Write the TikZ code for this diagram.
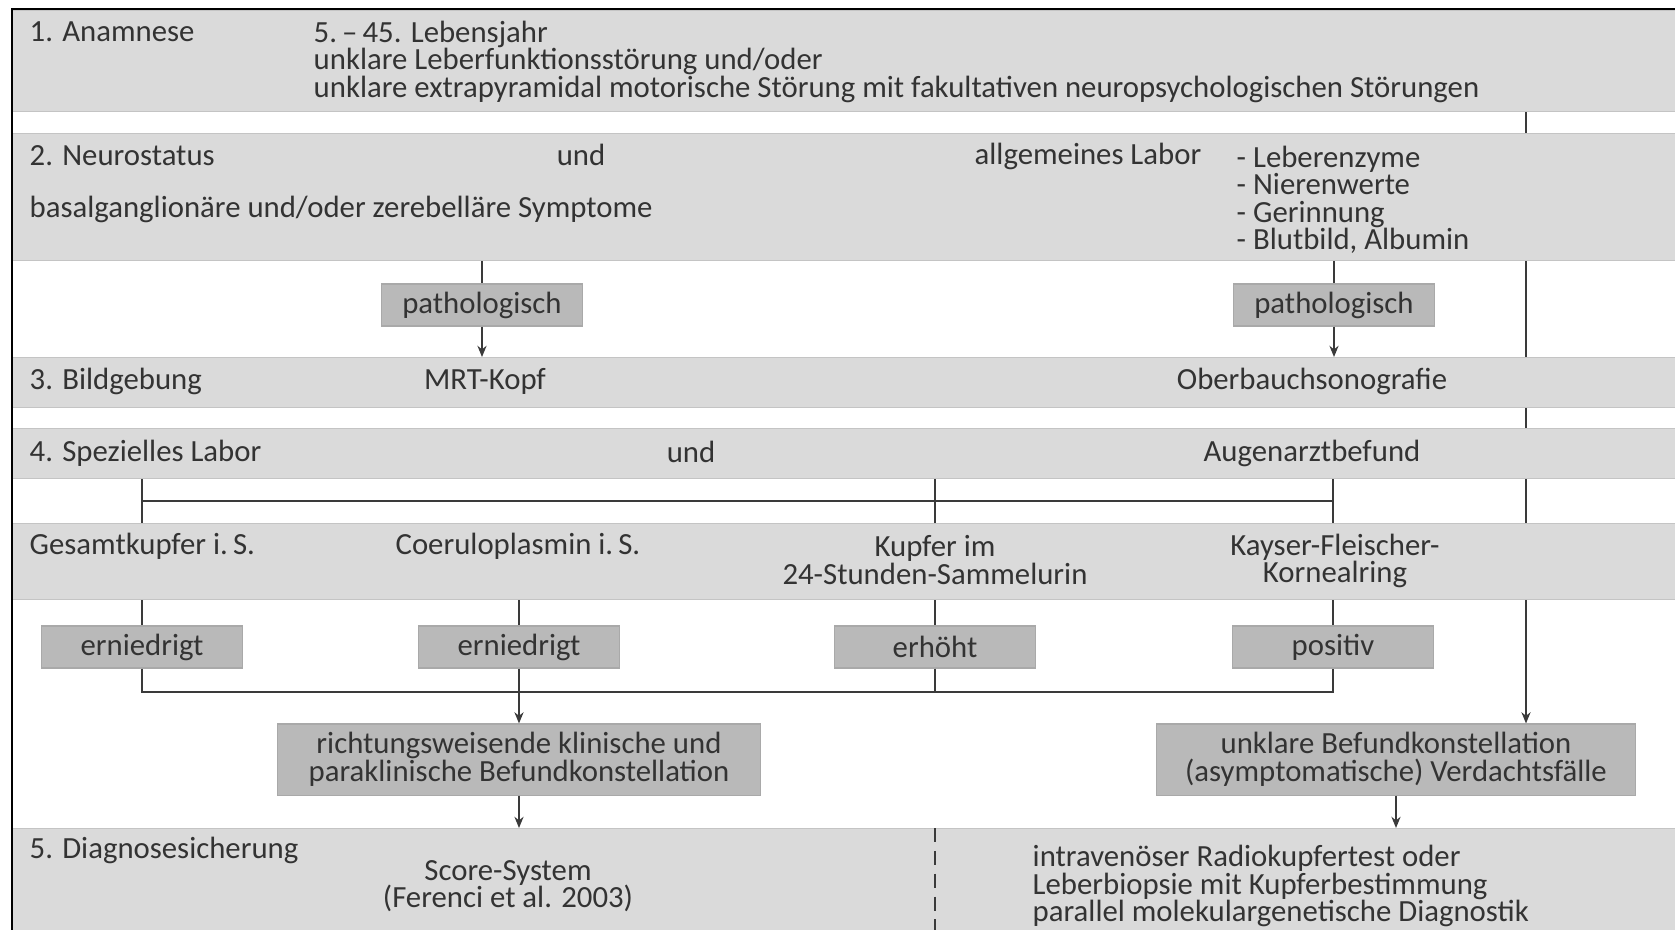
\documentclass[tikz,border=0pt]{standalone}
\usepackage{fontspec}
\setmainfont{Carlito}
\usepackage{tikz}
\usetikzlibrary{positioning,arrows.meta,backgrounds}
\definecolor{bandgray}{HTML}{DADADA}
\definecolor{bandline}{HTML}{C4C4C4}
\definecolor{boxgray}{HTML}{B9B9B9}
\definecolor{boxline}{HTML}{A9A9A9}
\definecolor{txt}{HTML}{333333}
\definecolor{lne}{HTML}{3A3A3A}

\begin{document}
\begin{tikzpicture}[x=0.01cm, y=-0.01cm,
    font=\fontsize{8.75}{7.85}\selectfont,
    band/.style={fill=bandgray, draw=bandline, line width=0.4pt, anchor=north west,
        inner sep=0pt, minimum width=16.63cm},
    box/.style={fill=boxgray, draw=boxline, line width=0.3pt, inner sep=0pt,
        minimum width=2.01cm, minimum height=0.42cm, text=txt},
    bigbox/.style={box, minimum height=0.71cm, align=center},
    lbl/.style={inner sep=0pt, text=txt, anchor=west, align=left},
    mid/.style={inner sep=0pt, text=txt, align=center},
    conn/.style={draw=lne, line width=0.45pt},
    arr/.style={conn, -{Stealth[length=3.2pt, width=2.6pt]}}]
    \useasboundingbox (0,0) rectangle (1675,930);
    \node[band, minimum height=1.01cm] (b1) at (12,10) {};
    \node[band, minimum height=1.27cm] (b2) at (12,133) {};
    \node[band, minimum height=0.50cm] (b3) at (12,357) {};
    \node[band, minimum height=0.50cm] (b4) at (12,428) {};
    \node[band, minimum height=0.76cm] (b5) at (12,523) {};
    \node[band, minimum height=1.02cm] (b6) at (12,828) {};
    \draw[black, line width=0.8pt] (12,930) -- (12,9) -- (1675,9);

    \node[lbl] (anam) at (29,32) {1. Anamnese};
    \node[lbl, anchor=north west] (anamtext) at (313,20) {5.\,–\,45. Lebensjahr\\unklare Leberfunktionsstörung und/oder\\unklare extrapyramidal motorische Störung mit fakultativen neuropsychologischen Störungen};

    \node[lbl] (neuro) at (29,156) {2. Neurostatus};
    \node[mid] (und1) at (581,155) {und};
    \node[lbl, anchor=east] (labor) at (1202,156) {allgemeines Labor};
    \node[lbl, anchor=north west] (laborlist) at (1236,145) {- Leberenzyme\\- Nierenwerte\\- Gerinnung\\- Blutbild, Albumin};
    \node[lbl] (symp) at (29,209) {basalganglionäre und/oder zerebelläre Symptome};

    \node[box] (path1) at (482,305) {pathologisch};
    \node[box] (path2) at (1334,305) {pathologisch};

    \node[lbl] (bild) at (29,381) {3. Bildgebung};
    \node[mid] (mrt) at (485,381) {MRT-Kopf};
    \node[mid] (sono) at (1312,381) {Oberbauchsonografie};

    \node[lbl] (spez) at (29,453) {4. Spezielles Labor};
    \node[mid] (und2) at (691,452) {und};
    \node[mid] (auge) at (1312,453) {Augenarztbefund};

    \node[lbl] (gesamt) at (29,546) {Gesamtkupfer i.\,S.};
    \node[mid] (coer) at (518,546) {Coeruloplasmin i.\,S.};
    \node[mid] (urin) at (935,560) {Kupfer im\\24-Stunden-Sammelurin};
    \node[mid] (kayser) at (1335,561) {Kayser-Fleischer-\\Kornealring};

    \node[box] (erni1) at (142,647) {erniedrigt};
    \node[box] (erni2) at (519,647) {erniedrigt};
    \node[box] (erh) at (935,647) {erhöht};
    \node[box] (pos) at (1333,647) {positiv};

    \node[bigbox, minimum width=4.82cm] (richt) at (519,759.5) {richtungsweisende klinische und\\paraklinische Befundkonstellation};
    \node[bigbox, minimum width=4.78cm] (unklar) at (1396,759.5) {unklare Befundkonstellation\\(asymptomatische) Verdachtsfälle};

    \node[lbl] (diag) at (29,850) {5. Diagnosesicherung};
    \node[mid] (score) at (508,886) {Score-System\\(Ferenci et al. 2003)};
    \node[lbl] (radio) at (1032,886) {intravenöser Radiokupfertest oder\\Leberbiopsie mit Kupferbestimmung\\parallel molekulargenetische Diagnostik};
    \coordinate (split) at (935,930);
    \coordinate (side) at (1526,0);
    \coordinate (row4) at (0,501);
    \coordinate (row5) at (0,692);

    \begin{scope}[on background layer]
        \draw[arr] (b1.south -| side) -- (unklar.north -| side);
    \end{scope}
    \draw[conn] (b2.south -| path1) -- (path1);
    \draw[arr] (path1) -- (b3.north -| path1);
    \draw[conn] (b2.south -| path2) -- (path2);
    \draw[arr] (path2) -- (b3.north -| path2);

    \draw[conn] (b4.south -| erni1) -- (b5.north -| erni1);
    \draw[conn] (b4.south -| erh) -- (b5.north -| erh);
    \draw[conn] (b4.south -| pos) -- (b5.north -| pos);
    \draw[conn] (erni1 |- row4) -- (pos |- row4);

    \draw[conn] (b5.south -| erni1) -- (erni1);
    \draw[conn] (b5.south -| erni2) -- (erni2);
    \draw[conn] (b5.south -| erh) -- (erh);
    \draw[conn] (b5.south -| pos) -- (pos);
    \draw[conn] (erni1) -- (erni1 |- row5) -- (pos |- row5) -- (pos);
    \draw[conn] (erh) -- (erh |- row5);
    \draw[arr] (erni2) -- (richt);
    \draw[arr] (richt) -- (b6.north -| richt);
    \draw[arr] (unklar) -- (b6.north -| unklar);
    \draw[conn, dash pattern=on 4pt off 2.5pt] (b6.north -| split) -- (split);
\end{tikzpicture}
\end{document}
